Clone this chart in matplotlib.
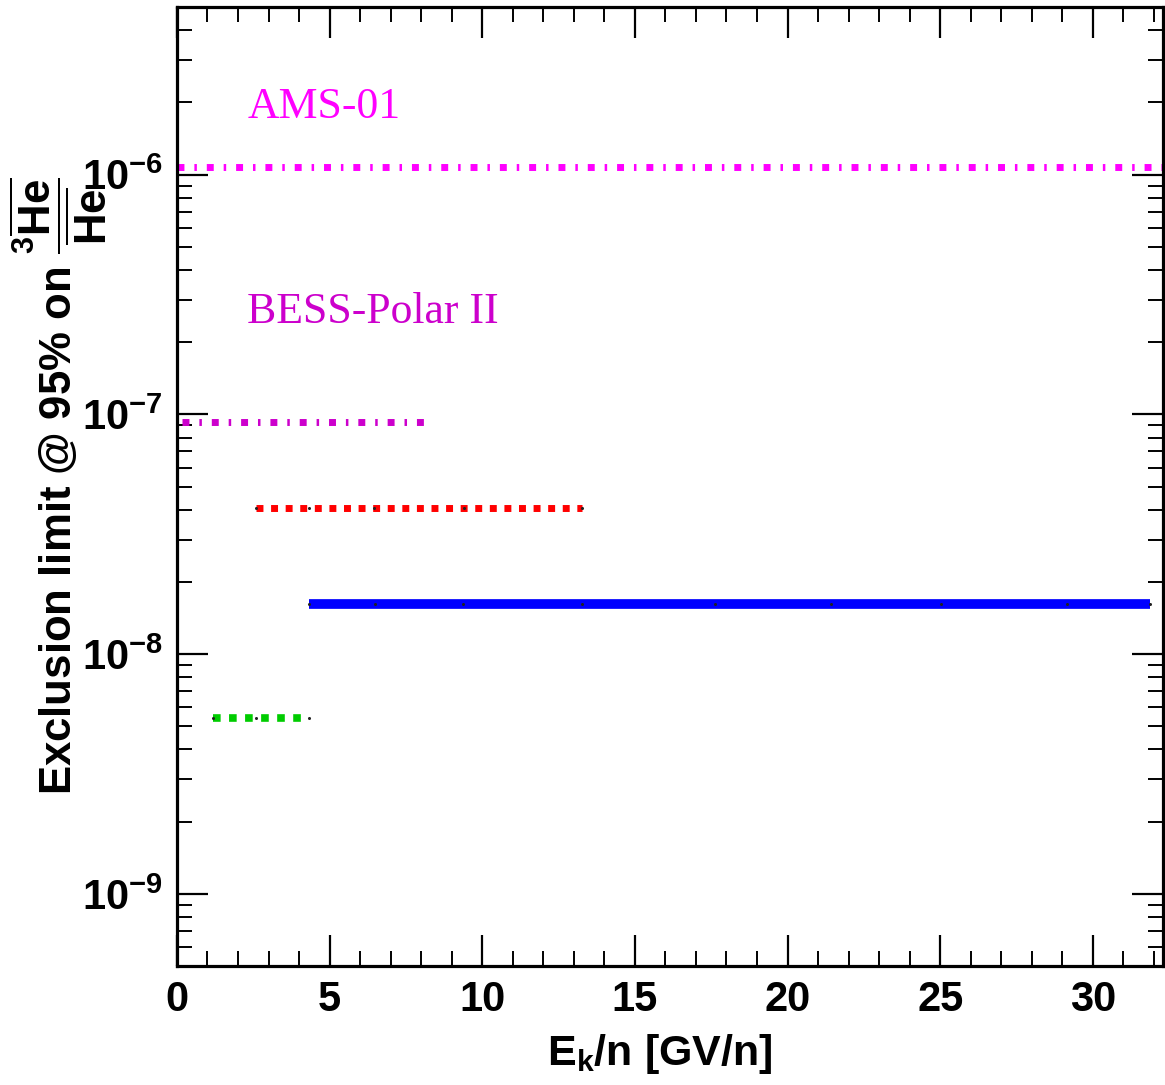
import matplotlib
matplotlib.use("Agg")
import matplotlib.pyplot as plt
import numpy as np
from matplotlib.ticker import MultipleLocator, LogLocator, FuncFormatter, NullFormatter

plt.rcParams['font.family'] = ['Liberation Sans', 'DejaVu Sans']
plt.rcParams['mathtext.fontset'] = 'custom'
plt.rcParams['mathtext.rm'] = 'Liberation Sans:bold'
plt.rcParams['mathtext.bf'] = 'Liberation Sans:bold'
plt.rcParams['mathtext.it'] = 'Liberation Sans:bold'

# bin edges (GeV/n) and exclusion limits
ams_x = [0.0, 32.3]
ams_y = [1.08e-6, 1.08e-6]

bess_x = [0.18, 8.3]
bess_y = [9.3e-8, 9.3e-8]

red_x = [2.60, 4.31, 6.46, 9.39, 13.27]
red_y = [4.08e-8] * len(red_x)

blue_x = [4.34, 6.48, 9.37, 13.27, 17.62, 21.41, 25.02, 29.15, 31.87]
blue_y = [1.61e-8] * len(blue_x)

green_x = [1.18, 2.60, 4.31]
green_y = [5.43e-9] * len(green_x)

labels = ["AMS-01", "BESS-Polar II"]
label_pos = [(2.3, 1.72e-6), (2.3, 2.4e-7)]
label_col = ["#ff00ff", "#cc00cc"]

fig = plt.figure(figsize=(11.65, 10.85), dpi=100)
ax = fig.add_axes([0.1519, 0.1097, 0.8464, 0.8838])

dashdot = (0, (1.0, 1.43, 0.36, 1.43))
dotted = (0, (1.0, 1.1))

ax.plot(ams_x, ams_y, color="#ff00ff", lw=5.0, linestyle=dashdot)
ax.plot(bess_x, bess_y, color="#cc00cc", lw=5.0, linestyle=dashdot)
ax.plot(red_x, red_y, color="#ff0000", lw=5.0, linestyle=dotted)
ax.plot(blue_x, blue_y, color="#0000ff", lw=7.0, linestyle="-", solid_capstyle="butt")
ax.plot(green_x, green_y, color="#00cc00", lw=5.5, linestyle=dotted)

# small data points on the binned lines
for xs, ys in [(red_x, red_y), (blue_x, blue_y), (green_x, green_y)]:
    ax.plot(xs, ys, 'o', color="#222222", ms=2.2, mec="none")

for txt, (tx, ty), c in zip(labels, label_pos, label_col):
    ax.text(tx, ty, txt, color=c, fontsize=31.5, family=['Liberation Serif', 'DejaVu Serif'],
            va='baseline', ha='left')

ax.set_yscale('log')
ax.set_xlim(0, 32.3)
ax.set_ylim(5e-10, 5e-6)

ax.xaxis.set_major_locator(MultipleLocator(5))
ax.xaxis.set_minor_locator(MultipleLocator(1))
ax.yaxis.set_major_locator(LogLocator(base=10))
ax.yaxis.set_minor_locator(LogLocator(base=10, subs=np.arange(2, 10)))
ax.yaxis.set_minor_formatter(NullFormatter())

def fmt_y(v, pos):
    e = int(round(np.log10(v)))
    return r'$\mathbf{10^{%d}}$' % e

ax.yaxis.set_major_formatter(FuncFormatter(fmt_y))

ax.tick_params(which='major', direction='in', length=22, width=1.6, top=True, right=True,
               labelsize=30, pad=10)
ax.tick_params(which='minor', direction='in', length=11, width=1.4, top=True, right=True)
for lab in ax.get_xticklabels():
    lab.set_fontweight('bold')

for sp in ax.spines.values():
    sp.set_linewidth(2.3)

ax.set_xlabel(r'E$_{\mathbf{k}}$/n [GV/n]', fontsize=31, fontweight='bold')
ax.set_ylabel(r'Exclusion limit @ 95% on $\dfrac{{}^{3}\overline{\mathbf{He}}}{\overline{\mathbf{He}}}$',
              fontsize=31.5, fontweight='bold')
ax.yaxis.set_label_coords(-0.069, 0.5)
ax.xaxis.set_label_coords(0.49, -0.069)

fig.savefig("out.png", dpi=100)
